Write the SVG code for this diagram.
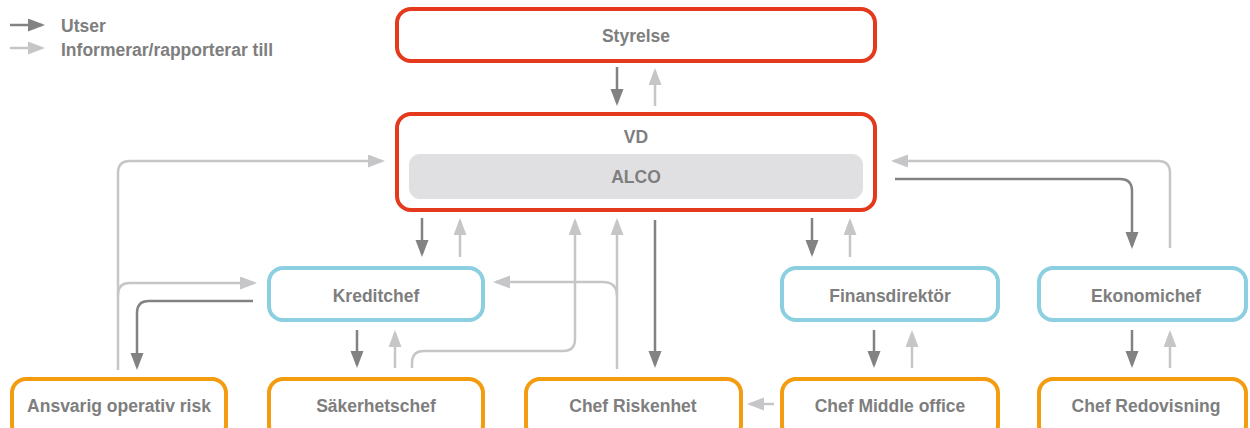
<svg xmlns="http://www.w3.org/2000/svg" width="1250" height="428" viewBox="0 0 1250 428">
  <defs>
    <marker id="headDark" markerUnits="userSpaceOnUse" markerWidth="18" markerHeight="14" refX="14" refY="6.5" orient="auto">
      <path d="M0,0 L17,6.5 L0,13 z" fill="#828283"/>
    </marker>
    <marker id="headLight" markerUnits="userSpaceOnUse" markerWidth="18" markerHeight="14" refX="14" refY="6.5" orient="auto">
      <path d="M0,0 L17,6.5 L0,13 z" fill="#c6c6c8"/>
    </marker>
  </defs>
  <style>
    .lbl { font-family: "Liberation Sans", Arial, sans-serif; font-weight: bold; font-size: 17.5px; fill: #7e7e7e; }
    .mid { text-anchor: middle; }
    .box { fill: #ffffff; stroke-width: 4; }
    .red { stroke: #e5391d; }
    .blue { stroke: #8bcfe0; }
    .orange { stroke: #f39c0f; }
    .dark { fill: none; stroke: #828283; stroke-width: 2.5; marker-end: url(#headDark); }
    .light { fill: none; stroke: #c6c6c8; stroke-width: 2.5; marker-end: url(#headLight); }
  </style>

  <!-- legend -->
  <g id="legend">
    <path class="dark" d="M10,25 H42"/>
    <path class="light" d="M10,48 H42"/>
    <text class="lbl" x="61" y="32">Utser</text>
    <text class="lbl" x="61" y="56">Informerar/rapporterar till</text>
  </g>

  <!-- connectors -->
  <g id="connectors">
    <!-- Styrelse / VD -->
    <path class="dark" d="M617,67 V103"/>
    <path class="light" d="M655,106 V71"/>

    <!-- VD / Kreditchef -->
    <path class="dark" d="M422,218 V254"/>
    <path class="light" d="M460,257 V221"/>

    <!-- VD / Finansdirektör -->
    <path class="dark" d="M812,218 V254"/>
    <path class="light" d="M850,257 V221"/>

    <!-- Kreditchef / Säkerhetschef -->
    <path class="dark" d="M357,330 V365"/>
    <path class="light" d="M395,368 V333"/>

    <!-- Finansdirektör / Chef Middle office -->
    <path class="dark" d="M874,330 V365"/>
    <path class="light" d="M912,368 V333"/>

    <!-- Ekonomichef / Chef Redovisning -->
    <path class="dark" d="M1132,330 V365"/>
    <path class="light" d="M1170,368 V333"/>

    <!-- Ansvarig operativ risk reports to VD and Kreditchef -->
    <path class="light" d="M118,370 V173 Q118,161 130,161 H382"/>
    <path class="light" d="M118,295 Q118,283 130,283 H254"/>
    <!-- Kreditchef appoints Ansvarig operativ risk -->
    <path class="dark" d="M253,301 H149 Q137,301 137,313 V367"/>

    <!-- Säkerhetschef reports to VD -->
    <path class="light" d="M412,368 V363 Q412,351 424,351 H563 Q575,351 575,339 V221"/>

    <!-- Chef Riskenhet reports to VD and Kreditchef -->
    <path class="light" d="M617,369 V221"/>
    <path class="light" d="M617,296 Q617,282 603,282 H496"/>

    <!-- VD appoints Chef Riskenhet -->
    <path class="dark" d="M655,220 V365"/>

    <!-- Chef Middle office reports to Chef Riskenhet -->
    <path class="light" d="M774,404 H750"/>

    <!-- VD / Ekonomichef -->
    <path class="light" d="M1170,248 V173 Q1170,161 1158,161 H894"/>
    <path class="dark" d="M895,179 H1120 Q1132,179 1132,191 V246"/>
  </g>

  <!-- nodes -->
  <g id="styrelse">
    <rect class="box red" x="397" y="9" width="478" height="52" rx="14"/>
    <text class="lbl mid" x="636" y="42">Styrelse</text>
  </g>

  <g id="vd">
    <rect class="box red" x="397" y="114" width="478" height="96" rx="14"/>
    <text class="lbl mid" x="636" y="143">VD</text>
    <g id="alco">
      <rect x="409" y="154" width="454" height="45" rx="11" fill="#e0e0e2"/>
      <text class="lbl mid" x="636" y="183">ALCO</text>
    </g>
  </g>

  <g id="kreditchef">
    <rect class="box blue" x="269" y="268" width="214" height="52" rx="14"/>
    <text class="lbl mid" x="376" y="302">Kreditchef</text>
  </g>

  <g id="finansdirektor">
    <rect class="box blue" x="782" y="268" width="216" height="52" rx="14"/>
    <text class="lbl mid" x="890" y="302">Finansdirektör</text>
  </g>

  <g id="ekonomichef">
    <rect class="box blue" x="1039" y="268" width="207" height="52" rx="14"/>
    <text class="lbl mid" x="1146" y="302">Ekonomichef</text>
  </g>

  <g id="ansvarig-operativ-risk">
    <rect class="box orange" x="12" y="379" width="214" height="60" rx="14"/>
    <text class="lbl mid" x="119" y="412">Ansvarig operativ risk</text>
  </g>

  <g id="sakerhetschef">
    <rect class="box orange" x="269" y="379" width="214" height="60" rx="14"/>
    <text class="lbl mid" x="376" y="412">Säkerhetschef</text>
  </g>

  <g id="chef-riskenhet">
    <rect class="box orange" x="526" y="379" width="215" height="60" rx="14"/>
    <text class="lbl mid" x="633" y="412">Chef Riskenhet</text>
  </g>

  <g id="chef-middle-office">
    <rect class="box orange" x="782" y="379" width="216" height="60" rx="14"/>
    <text class="lbl mid" x="890" y="412">Chef Middle office</text>
  </g>

  <g id="chef-redovisning">
    <rect class="box orange" x="1039" y="379" width="207" height="60" rx="14"/>
    <text class="lbl mid" x="1146" y="412">Chef Redovisning</text>
  </g>
</svg>
